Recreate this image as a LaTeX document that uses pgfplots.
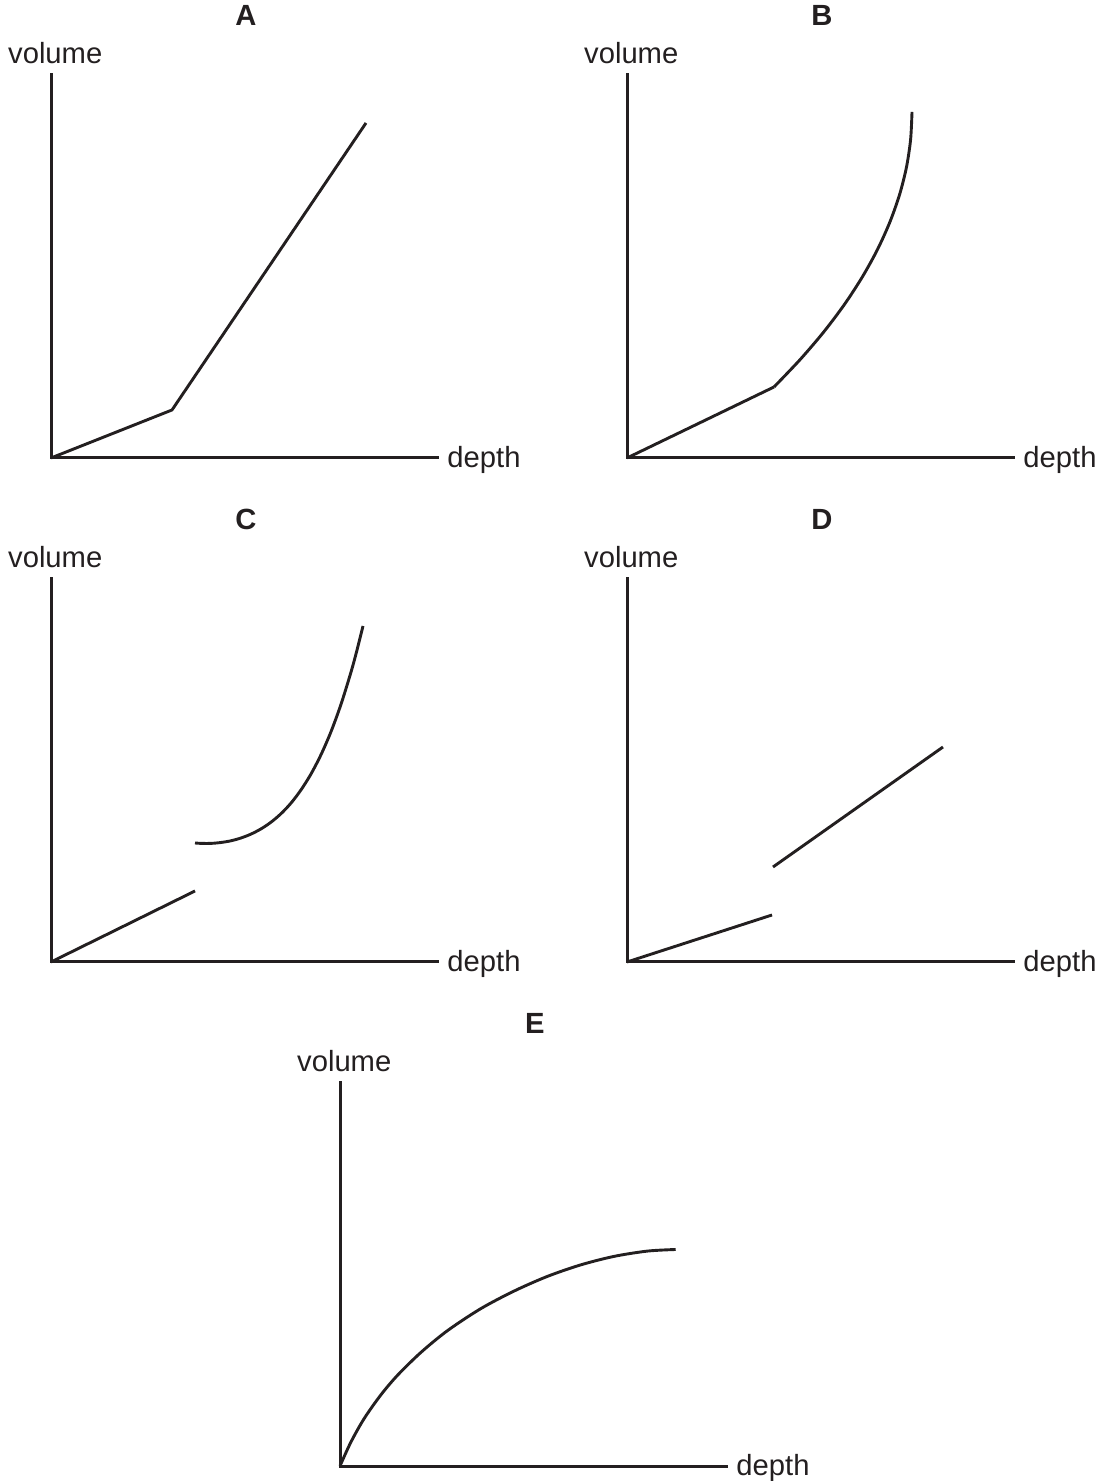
\documentclass[border=0pt]{standalone}
\usepackage{fontspec}
\setmainfont{Liberation Sans}
\usepackage{pgfplots}
\pgfplotsset{compat=1.18}
\definecolor{ink}{RGB}{35,31,32}
\pgfplotsset{
  curve/.style={draw=ink, line width=1.45pt, no markers, line join=round},
  sketch/.style={
    scale only axis,
    width=193pt, height=191.5pt,
    xmin=0, xmax=386, ymin=0, ymax=383,
    axis lines=left,
    axis line style={-, draw=ink, line width=1.5pt, line cap=rect},
    every outer x axis line/.append style={-, draw=ink, line width=1.5pt},
    every outer y axis line/.append style={-, draw=ink, line width=1.5pt},
    ticks=none,
    clip=false,
    anchor=south west,
    xlabel={depth}, ylabel={volume},
    every axis x label/.style={at={(axis description cs:1.026,-0.024)}, anchor=base west,
      font=\fontsize{14.6}{17}\selectfont, text=ink, inner sep=0pt},
    every axis y label/.style={at={(axis description cs:0.011,1.031)}, anchor=base,
      font=\fontsize{14.6}{17}\selectfont, text=ink, inner sep=0pt},
    every axis title/.style={at={(axis description cs:0.505,1.155)}, anchor=center,
      font=\fontsize{14.6}{17}\selectfont\bfseries, text=ink},
  }
}
\begin{document}
\begin{tikzpicture}
\useasboundingbox (0,0) rectangle (553pt,740.5pt);
% A
\begin{axis}[sketch, at={(25.5pt,511.5pt)}, title={A}]
\addplot[curve] coordinates {(0,0) (121,48) (315,335)};
\end{axis}
% B
\begin{axis}[sketch, at={(313.5pt,511.5pt)}, title={B}]
\addplot[curve] coordinates {(0,0) (147,71)};
\addplot[curve, smooth] coordinates {(147,71) (173.2,98.5) (196.7,126) (217.4,153.5) (235.3,181) (250.5,208.5) (262.9,236) (272.6,263.5) (279.5,291) (283.6,318.5) (285,346)};
\end{axis}
% C
\begin{axis}[sketch, at={(25.5pt,259.5pt)}, title={C}]
\addplot[curve] coordinates {(0,0) (144,71)};
\addplot[curve, smooth] coordinates {(144,119) (150,118.6) (160,118.6) (170,119.5) (180,121.2) (190,124) (200,127.9) (210,133.1) (220,139.8) (230,148.3) (240,158.9) (250,172.1) (260,188) (270,207.3) (280,230.3) (290,257.7) (300,289.9) (306,311.9) (312,336)};
\end{axis}
% D
\begin{axis}[sketch, at={(313.5pt,259.5pt)}, title={D}]
\addplot[curve] coordinates {(0,0) (145,47)};
\addplot[curve] coordinates {(146,95) (316,215)};
\end{axis}
% E
\begin{axis}[sketch, at={(170pt,7.5pt)}, title={E}]
\addplot[curve, smooth] coordinates {(0,0) (10.7,23.5) (24,47.2) (40.7,70.9) (57.4,90.6) (80.7,113.4) (107.4,135.3) (140.7,157.3) (174,174.9) (207.4,189.6) (240.7,201.1) (274,209.6) (307.4,214.9) (335.7,216.5)};
\end{axis}
\end{tikzpicture}
\end{document}
